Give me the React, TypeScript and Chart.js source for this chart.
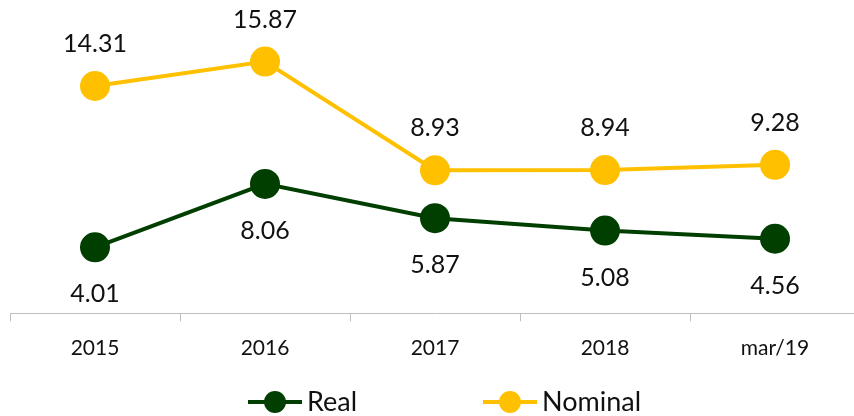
import React, { useEffect, useRef } from "react";
import { Chart, registerables } from "chart.js";

Chart.register(...registerables);

const categories = ["2015", "2016", "2017", "2018", "mar/19"];
const realValues = [4.01, 8.06, 5.87, 5.08, 4.56];
const nominalValues = [14.31, 15.87, 8.93, 8.94, 9.28];
const realLabels = ["4.01", "8.06", "5.87", "5.08", "4.56"];
const nominalLabels = ["14.31", "15.87", "8.93", "8.94", "9.28"];

const GREEN = "#003F00";
const YELLOW = "#FFC000";
const FONT = "Lato, 'Open Sans', sans-serif";

const dataLabelPlugin = {
  id: "dataLabels",
  afterDatasetsDraw(chart: any) {
    const ctx = chart.ctx;
    ctx.save();
    ctx.font = `25px ${FONT}`;
    ctx.fillStyle = "#111";
    ctx.textAlign = "center";
    ctx.textBaseline = "middle";
    chart.data.datasets.forEach((ds: any, i: number) => {
      const meta = chart.getDatasetMeta(i);
      const labels = ds.labelTexts as string[];
      const off = ds.labelOffset as number;
      meta.data.forEach((pt: any, j: number) => {
        ctx.fillText(labels[j], pt.x, pt.y + off);
      });
    });
    ctx.restore();
  },
};

const legendPlugin = {
  id: "customLegend",
  afterDraw(chart: any) {
    const ctx = chart.ctx;
    const y = 402;
    const items = [
      { color: GREEN, text: "Real", x0: 248, x1: 302 },
      { color: YELLOW, text: "Nominal", x0: 483, x1: 537 },
    ];
    ctx.save();
    items.forEach((it) => {
      ctx.strokeStyle = it.color;
      ctx.lineWidth = 4;
      ctx.beginPath();
      ctx.moveTo(it.x0, y);
      ctx.lineTo(it.x1, y);
      ctx.stroke();
      ctx.fillStyle = it.color;
      ctx.beginPath();
      ctx.arc((it.x0 + it.x1) / 2, y, 11, 0, Math.PI * 2);
      ctx.fill();
      ctx.fillStyle = "#111";
      ctx.font = `27px ${FONT}`;
      ctx.textAlign = "left";
      ctx.textBaseline = "middle";
      ctx.fillText(it.text, it.x1 + 5, y);
    });
    ctx.restore();
  },
};

export default function App() {
  const ref = useRef<HTMLCanvasElement | null>(null);
  useEffect(() => {
    if (!ref.current) return;
    const chart = new Chart(ref.current, {
      type: "line",
      data: {
        labels: categories,
        datasets: [
          {
            label: "Real",
            data: realValues,
            borderColor: GREEN,
            backgroundColor: GREEN,
            pointBackgroundColor: GREEN,
            pointBorderColor: GREEN,
            borderWidth: 4,
            pointRadius: 15,
            pointBorderWidth: 0,
            tension: 0,
            clip: false,
            labelTexts: realLabels,
            labelOffset: 47,
          } as any,
          {
            label: "Nominal",
            data: nominalValues,
            borderColor: YELLOW,
            backgroundColor: YELLOW,
            pointBackgroundColor: YELLOW,
            pointBorderColor: YELLOW,
            borderWidth: 4,
            pointRadius: 15,
            pointBorderWidth: 0,
            tension: 0,
            clip: false,
            labelTexts: nominalLabels,
            labelOffset: -42,
          } as any,
        ],
      },
      options: {
        animation: false,
        responsive: false,
        layout: { autoPadding: false, padding: { left: 10, right: 2, top: 0, bottom: 41.5 } },
        plugins: {
          legend: { display: false },
          tooltip: { enabled: false },
        },
        scales: {
          x: {
            offset: true,
            grid: {
              display: true,
              drawOnChartArea: false,
              drawTicks: true,
              tickLength: 8,
              color: "#BFBFBF",
              offset: true,
            },
            border: { display: true, color: "#BFBFBF", width: 1 },
            ticks: {
              color: "#111",
              padding: 14,
              font: { family: FONT, size: 21 },
              maxRotation: 0,
            },
          },
          y: {
            display: false,
            min: -0.2,
            max: 19.8,
          },
        },
      },
      plugins: [dataLabelPlugin, legendPlugin],
    });
    return () => chart.destroy();
  }, []);
  return (
    <div style={{ position: "fixed", left: 0, top: 0, width: 854, height: 416, overflow: "hidden", background: "#fff" }}>
      <canvas ref={ref} width={862} height={416} style={{ display: "block" }} />
    </div>
  );
}
